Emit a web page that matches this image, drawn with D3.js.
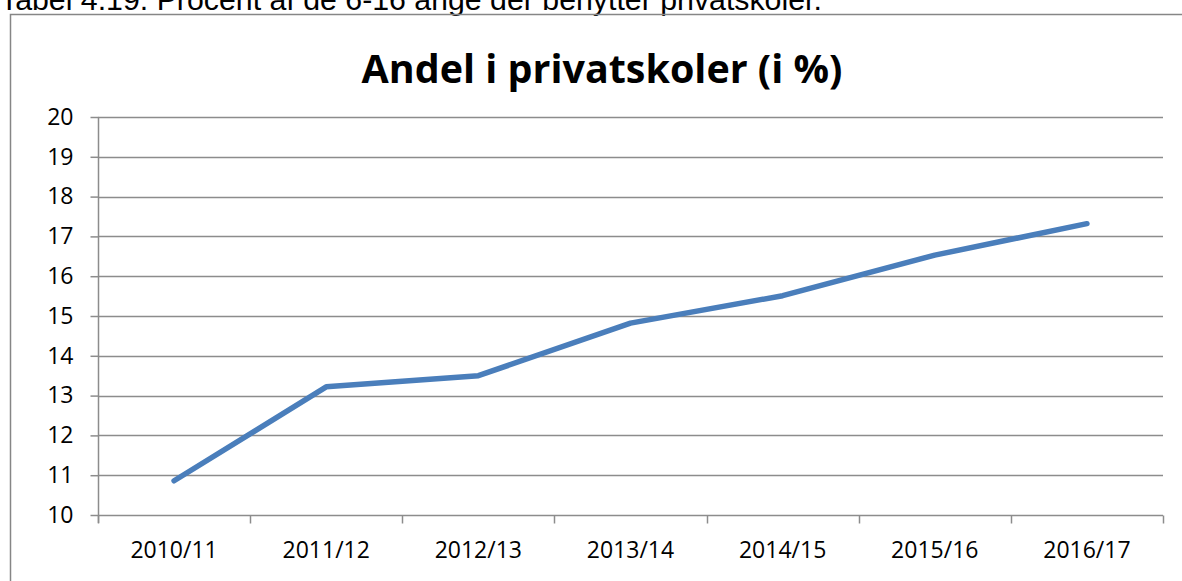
<!DOCTYPE html>
<html>
<head>
<meta charset="utf-8">
<script src="https://cdn.jsdelivr.net/npm/d3@7"></script>
<style>
  html, body { margin: 0; padding: 0; background: #fff; overflow: hidden; }
  svg { display: block; }
</style>
</head>
<body>
<svg width="1182" height="581"></svg>
<script>
const caption = "Tabel 4.19. Procent af de 6-16 årige der benytter privatskoler.";
const title = "Andel i privatskoler (i %)";
const years = ["2010/11", "2011/12", "2012/13", "2013/14", "2014/15", "2015/16", "2016/17"];
const share = [10.86, 13.22, 13.5, 14.82, 15.51, 16.53, 17.32];
const yTicks = [10, 11, 12, 13, 14, 15, 16, 17, 18, 19, 20];

const svg = d3.select("svg");

// layout of the plot area
const plotLeft = 98, plotRight = 1163, plotTop = 117, plotBottom = 515;
const labelFont = "Open Sans, sans-serif";
const labelSize = 23;

// fit a text node to a given width
function fitWidth(sel, target) {
  const w = sel.node().getComputedTextLength();
  const fs = parseFloat(sel.attr("font-size"));
  sel.attr("font-size", fs * target / w);
}

// page caption, clipped at the top like the source
const cap = svg.append("text")
  .attr("x", 0)
  .attr("y", 10)
  .attr("font-family", "Liberation Sans, Arial, sans-serif")
  .attr("font-size", 22)
  .attr("fill", "#000")
  .text(caption);
fitWidth(cap, 822);

// chart frame
svg.append("rect")
  .attr("x", 10.5)
  .attr("y", 14.5)
  .attr("width", 1200)
  .attr("height", 600)
  .attr("fill", "none")
  .attr("stroke", "#868686")
  .attr("stroke-width", 1.5);

const t = svg.append("text")
  .attr("x", 602)
  .attr("y", 83)
  .attr("text-anchor", "middle")
  .attr("font-family", "Open Sans, sans-serif")
  .attr("font-weight", "bold")
  .attr("font-size", 40)
  .attr("fill", "#000")
  .text(title);
fitWidth(t, 481);

const x = d3.scaleBand().domain(years).range([plotLeft, plotRight]);
const y = d3.scaleLinear().domain([10, 20]).range([plotBottom, plotTop]);

// gridlines
svg.append("g")
  .selectAll("line")
  .data(yTicks.slice(1))
  .join("line")
  .attr("x1", plotLeft)
  .attr("x2", plotRight)
  .attr("y1", (d) => Math.round(y(d)) + 0.5)
  .attr("y2", (d) => Math.round(y(d)) + 0.5)
  .attr("stroke", "#8c8c8c")
  .attr("stroke-width", 1.5);

// y axis
const yAxis = svg.append("g")
  .attr("transform", `translate(${plotLeft + 0.5},0)`)
  .call(d3.axisLeft(y).tickValues(yTicks).tickSize(8).tickPadding(17));
yAxis.select(".domain").attr("stroke", "#8c8c8c").attr("stroke-width", 1.5)
  .attr("d", `M0,${plotTop}V${plotBottom + 8}`);
yAxis.selectAll(".tick line").attr("stroke", "#8c8c8c").attr("stroke-width", 1.5);
yAxis.selectAll(".tick text")
  .attr("font-family", labelFont)
  .attr("font-size", labelSize)
  .attr("fill", "#000");

// x axis with ticks at band boundaries
const xAxis = svg.append("g")
  .attr("transform", `translate(0,${plotBottom + 0.5})`);
xAxis.append("line")
  .attr("x1", plotLeft)
  .attr("x2", plotRight)
  .attr("stroke", "#8c8c8c")
  .attr("stroke-width", 1.5);
const bounds = years.map((d) => x(d)).concat([plotRight]);
xAxis.selectAll(".xt")
  .data(bounds)
  .join("line")
  .attr("class", "xt")
  .attr("x1", (d) => Math.round(d) + 0.5)
  .attr("x2", (d) => Math.round(d) + 0.5)
  .attr("y1", 0)
  .attr("y2", 8)
  .attr("stroke", "#8c8c8c")
  .attr("stroke-width", 1.5);
xAxis.selectAll(".xl")
  .data(years)
  .join("text")
  .attr("class", "xl")
  .attr("x", (d) => x(d) + x.bandwidth() / 2)
  .attr("y", 42)
  .attr("text-anchor", "middle")
  .attr("font-family", labelFont)
  .attr("font-size", labelSize)
  .attr("fill", "#000")
  .text((d) => d);

// the series line
const line = d3.line()
  .x((d, i) => x(years[i]) + x.bandwidth() / 2)
  .y((d) => y(d));

svg.append("path")
  .datum(share)
  .attr("d", line)
  .attr("fill", "none")
  .attr("stroke", "#4a7ebb")
  .attr("stroke-width", 5.5)
  .attr("stroke-linecap", "round")
  .attr("stroke-linejoin", "round");
</script>
</body>
</html>
